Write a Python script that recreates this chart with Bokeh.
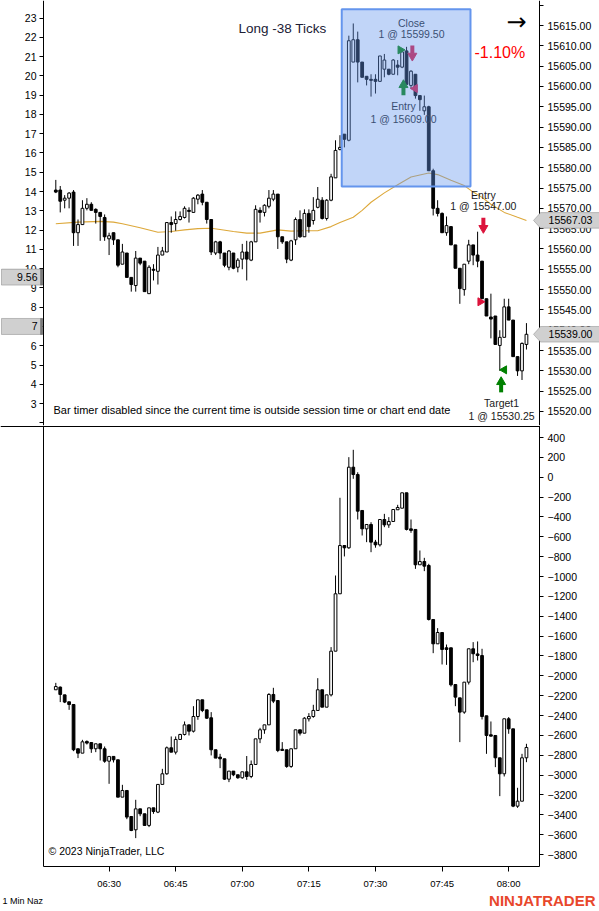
import numpy as np
import pandas as pd
from bokeh.plotting import figure
from bokeh.layouts import column
from bokeh.models import (Range1d, LinearAxis, DatetimeAxis, FixedTicker, DatetimeTickFormatter,
                          PrintfTickFormatter, BoxAnnotation, Label, PolyAnnotation)
from bokeh.core.properties import value
from bokeh.embed import file_html
from bokeh.resources import INLINE

# ---------------- data ----------------
SESSION_DAY = "2023-06-15"
FIRST_BAR = "06:18"

price_open = [15574.5, 15574.5, 15572.0, 15572.5, 15574.0, 15564.0, 15566.0, 15570.0, 15571.0, 15569.75,
 15569.0, 15567.75, 15562.5, 15564.0, 15562.25, 15556.25, 15559.0, 15553.0, 15551.0, 15557.75,
 15557.0, 15549.0, 15555.0, 15554.5, 15558.5, 15559.25, 15566.5, 15566.25, 15567.25, 15567.75,
 15569.5, 15569.0, 15572.25, 15573.5, 15571.5, 15567.25, 15559.0, 15561.75, 15559.0, 15555.5,
 15559.0, 15555.5, 15557.5, 15559.25, 15557.25, 15561.75, 15569.5, 15569.0, 15570.5, 15572.25,
 15573.5, 15563.0, 15561.75, 15557.25, 15562.25, 15567.25, 15563.0, 15568.75, 15567.0, 15570.25,
 15572.0, 15567.5, 15572.0, 15577.5, 15584.5, 15588.25, 15586.75, 15606.0, 15611.5, 15606.0,
 15602.5, 15601.75, 15601.75, 15601.25, 15604.25, 15604.25, 15603.0, 15605.25, 15604.75, 15608.75,
 15600.25, 15603.0, 15597.75, 15594.0, 15595.0, 15579.25, 15570.0, 15568.75, 15564.0, 15565.5,
 15561.0, 15555.25, 15550.0, 15557.0, 15561.0, 15558.5, 15557.0, 15547.75, 15543.25, 15543.5,
 15536.25, 15538.25, 15545.75, 15542.5, 15533.5, 15530.0, 15536.5]
price_high = [15577.0, 15575.5, 15573.25, 15574.0, 15574.5, 15567.25, 15572.0, 15572.5, 15571.5, 15570.0,
 15569.0, 15568.5, 15564.0, 15564.0, 15562.25, 15561.25, 15559.0, 15553.0, 15559.5, 15557.75,
 15557.0, 15556.0, 15556.25, 15560.5, 15560.5, 15566.5, 15568.0, 15569.25, 15569.25, 15570.5,
 15570.25, 15572.75, 15573.5, 15574.5, 15571.5, 15567.25, 15562.0, 15562.0, 15559.0, 15559.75,
 15559.0, 15557.75, 15561.25, 15562.0, 15562.0, 15570.75, 15570.25, 15571.0, 15574.5, 15574.5,
 15573.5, 15563.0, 15561.75, 15562.25, 15567.75, 15569.5, 15569.75, 15569.75, 15572.75, 15575.25,
 15572.75, 15572.25, 15578.5, 15586.75, 15588.0, 15588.25, 15612.5, 15615.5, 15613.5, 15606.0,
 15602.5, 15603.0, 15603.0, 15607.5, 15608.0, 15604.25, 15606.75, 15606.5, 15609.0, 15609.75,
 15604.0, 15603.0, 15597.75, 15597.75, 15595.25, 15579.75, 15572.0, 15569.0, 15568.0, 15565.5,
 15561.0, 15555.25, 15556.25, 15562.25, 15561.0, 15564.25, 15557.0, 15547.75, 15549.0, 15543.5,
 15540.0, 15547.75, 15547.75, 15542.5, 15533.5, 15537.0, 15541.75]
price_low = [15573.75, 15569.0, 15570.0, 15570.0, 15560.75, 15560.75, 15566.0, 15569.5, 15569.5, 15566.25,
 15562.0, 15562.0, 15558.5, 15561.0, 15555.5, 15556.25, 15553.0, 15549.5, 15549.5, 15556.0,
 15549.5, 15549.0, 15552.25, 15551.25, 15558.5, 15559.25, 15564.0, 15564.5, 15567.0, 15567.5,
 15566.5, 15569.0, 15571.0, 15570.75, 15566.25, 15558.5, 15558.5, 15557.5, 15555.5, 15554.75,
 15555.0, 15554.25, 15555.0, 15552.25, 15557.0, 15561.75, 15566.5, 15568.0, 15570.0, 15571.75,
 15560.0, 15561.25, 15556.5, 15557.0, 15561.0, 15562.75, 15563.0, 15564.0, 15566.0, 15570.0,
 15567.25, 15567.0, 15571.75, 15577.5, 15584.25, 15585.0, 15586.5, 15606.0, 15601.0, 15602.25,
 15600.25, 15597.5, 15598.25, 15601.25, 15602.25, 15602.75, 15603.0, 15602.75, 15604.5, 15600.5,
 15599.5, 15597.0, 15594.0, 15593.0, 15579.25, 15568.25, 15568.0, 15564.0, 15563.25, 15561.0,
 15555.25, 15546.5, 15548.5, 15556.25, 15556.0, 15555.5, 15547.75, 15543.5, 15538.0, 15536.5,
 15530.0, 15538.25, 15542.5, 15533.5, 15528.75, 15527.75, 15535.25]
price_close = [15574.0, 15571.75, 15572.5, 15573.75, 15564.0, 15566.0, 15570.0, 15571.0, 15569.5, 15569.0,
 15568.0, 15563.0, 15563.25, 15562.25, 15556.0, 15559.25, 15553.0, 15551.25, 15557.75, 15556.5,
 15549.5, 15555.5, 15554.75, 15558.5, 15559.5, 15566.5, 15566.0, 15567.25, 15568.0, 15570.0,
 15569.25, 15572.5, 15573.25, 15571.5, 15567.25, 15559.25, 15561.75, 15559.0, 15556.0, 15559.5,
 15555.25, 15557.25, 15559.25, 15557.5, 15561.75, 15569.75, 15569.0, 15570.75, 15572.5, 15573.5,
 15563.0, 15561.75, 15557.5, 15562.0, 15567.25, 15563.0, 15568.75, 15565.5, 15569.5, 15572.25,
 15567.5, 15572.0, 15577.75, 15584.25, 15585.0, 15587.0, 15611.25, 15611.5, 15606.0, 15602.25,
 15601.75, 15601.5, 15601.25, 15607.5, 15606.5, 15603.0, 15606.5, 15604.75, 15608.5, 15600.5,
 15603.75, 15597.75, 15596.75, 15595.0, 15579.25, 15570.0, 15568.75, 15564.0, 15565.75, 15561.0,
 15555.25, 15550.25, 15556.25, 15561.0, 15558.5, 15557.0, 15547.75, 15543.5, 15542.75, 15536.5,
 15538.25, 15545.75, 15542.5, 15533.5, 15530.0, 15536.75, 15539.0]

delta_open = [-2141, -2114, -2192, -2262, -2289, -2735, -2779, -2661, -2672, -2735,
 -2685, -2735, -2860, -2812, -2846, -3222, -3155, -3417, -3551, -3340,
 -3390, -3507, -3330, -3373, -3094, -2987, -2725, -2769, -2641, -2591,
 -2494, -2558, -2410, -2242, -2343, -2423, -2745, -2819, -2836, -3041,
 -2960, -2997, -3027, -2967, -3014, -2893, -2635, -2544, -2494, -2188,
 -2249, -2740, -2745, -2913, -2735, -2544, -2578, -2433, -2410, -2349,
 -2141, -2316, -2192, -1752, -1174, -688, -711, 101, 27, -335,
 -520, -476, -654, -681, -426, -480, -446, -328, -312, -157,
 -520, -526, -882, -849, -889, -1433, -1678, -1564, -1718, -1718,
 -2088, -2222, -2366, -2064, -1728, -1780, -1796, -2403, -2594, -2601,
 -2826, -2987, -2433, -2534, -3313, -3263, -2826]
delta_high = [-2071, -2108, -2192, -2262, -2289, -2735, -2645, -2651, -2672, -2685,
 -2685, -2712, -2812, -2812, -2846, -3098, -3155, -3417, -3249, -3340,
 -3390, -3330, -3330, -3094, -2937, -2712, -2611, -2611, -2584, -2460,
 -2494, -2306, -2242, -2242, -2343, -2366, -2745, -2786, -2836, -2960,
 -2960, -2997, -2967, -2808, -2853, -2635, -2524, -2494, -2175, -2121,
 -2249, -2668, -2745, -2735, -2544, -2544, -2417, -2376, -2292, -2024,
 -2141, -2192, -1711, -990, -207, -688, 202, 276, 50, -335,
 -476, -453, -631, -426, -369, -402, -325, -278, -157, -157,
 -426, -526, -738, -812, -872, -1433, -1520, -1564, -1685, -1718,
 -2088, -2222, -2064, -1728, -1661, -1654, -1728, -2403, -2460, -2601,
 -2826, -2433, -2416, -2534, -3128, -2786, -2685]
delta_low = [-2141, -2265, -2275, -2343, -2759, -2829, -2779, -2692, -2776, -2769,
 -2853, -2876, -3088, -2873, -3222, -3222, -3444, -3565, -3635, -3414,
 -3507, -3524, -3390, -3383, -3004, -2997, -2769, -2792, -2645, -2601,
 -2601, -2571, -2443, -2366, -2433, -2802, -2829, -2930, -3048, -3071,
 -3011, -3037, -3037, -3048, -3031, -2893, -2678, -2584, -2494, -2275,
 -2769, -2752, -2927, -2927, -2735, -2601, -2578, -2460, -2423, -2349,
 -2316, -2316, -2208, -1752, -1174, -798, -721, -16, -426, -587,
 -654, -755, -710, -698, -503, -510, -446, -328, -312, -536,
 -560, -923, -882, -946, -1443, -1772, -1678, -1886, -1890, -2108,
 -2306, -2668, -2383, -2088, -1863, -1846, -2440, -2786, -2611, -2920,
 -3212, -3014, -2584, -3323, -3330, -3263, -2870]
delta_close = [-2108, -2188, -2265, -2289, -2745, -2779, -2665, -2678, -2735, -2685,
 -2735, -2860, -2812, -2846, -3222, -3155, -3423, -3558, -3340, -3390,
 -3507, -3330, -3367, -3094, -2987, -2725, -2769, -2641, -2591, -2494,
 -2558, -2410, -2242, -2349, -2427, -2745, -2829, -2836, -3041, -2960,
 -2997, -3027, -2967, -3014, -2893, -2635, -2544, -2494, -2188, -2255,
 -2752, -2752, -2913, -2735, -2544, -2578, -2427, -2410, -2349, -2141,
 -2316, -2192, -1752, -1174, -688, -711, 101, 27, -342, -520,
 -476, -654, -681, -426, -480, -446, -325, -305, -157, -526,
 -536, -882, -849, -896, -1433, -1678, -1564, -1735, -1735, -2091,
 -2215, -2366, -2064, -1728, -1778, -1796, -2410, -2601, -2608, -2826,
 -2987, -2433, -2534, -3313, -3263, -2826, -2722]

# moving average of price, read at sampled bars
ma_bar = [0, 5, 10, 13, 15, 19, 23, 26, 29, 32, 35, 37, 40, 43, 46, 50, 53, 56, 59, 62,
          64, 67, 69, 71, 74, 77, 80, 84, 86, 89, 92, 94, 96, 98, 101, 104, 106]
ma_value = [15566.2, 15566.6, 15566.8, 15566.6, 15566.2, 15565.2, 15564.1, 15564.3, 15564.7, 15565.0,
            15565.1, 15564.8, 15564.3, 15563.9, 15563.9, 15564.7, 15564.4, 15564.5, 15564.5, 15565.5,
            15566.5, 15567.8, 15569.5, 15571.5, 15573.8, 15575.8, 15577.7, 15578.7, 15578.3, 15576.9,
            15575.6, 15574.0, 15572.7, 15571.0, 15569.0, 15567.8, 15567.03]

time_tick_labels = ["06:30", "06:45", "07:00", "07:15", "07:30", "07:45", "08:00"]
price_ticks = list(range(15520, 15625, 5))
indicator_ticks = list(range(2, 24))
delta_ticks = list(range(-3800, 401, 200))

indicator_markers = [9.56, 7.0]
price_markers = [15567.03, 15539.00]

trade_box = {"start": 64.4, "end": 93.4, "top": 15619.0, "bottom": 15575.4}
trade_texts = [
    (80.1, 15615.7, "Close"), (80.1, 15612.8, "1 @ 15599.50"),
    (78.3, 15595.1, "Entry"), (78.3, 15592.1, "1 @ 15609.00"),
    (96.3, 15573.4, "Entry"), (96.3, 15570.5, "1 @ 15547.00"),
    (100.4, 15522.0, "Target1"), (100.4, 15519.0, "1 @ 15530.25"),
]
arrows = [  # bar, tip price, direction, colour
    (78.3, 15601.5, "up", "#008000"),
    (80.3, 15606.4, "down", "#DC143C"),
    (96.3, 15564.0, "down", "#DC143C"),
    (100.3, 15528.4, "up", "#008000"),
]
fill_marks = [  # bar, price, side, colour
    (77.6, 15609.0, "right", "#008000"),
    (80.9, 15599.5, "left", "#DC143C"),
    (95.6, 15547.0, "right", "#DC143C"),
    (101.0, 15530.25, "left", "#008000"),
]

# ---------------- geometry ----------------
MIN = 60000.0
T0 = pd.Timestamp(f"{SESSION_DAY} {FIRST_BAR}").value / 1e6
n = len(price_open)
t = T0 + np.arange(n) * MIN

def bt(b):
    return T0 + b * MIN

W = 599
TOP_H, BOT_H = 425, 486
BAR0_X, PX_MIN = 55.3, 4.44          # page x of first bar, px per minute
LEFT_X, RIGHT_X = 43, 539             # page x of the axis lines

def page_x(px):
    return bt((px - BAR0_X) / PX_MIN)

PX = 4.063                           # px per price point
def price_at(y):                     # page y -> price
    return 15615 - (y - 25) / PX
IPX = 19.28
def ind_at(y):
    return 23 - (y - 17.5) / IPX
def ind_y(v):                        # indicator value -> page y
    return 17.5 + (23 - v) * IPX
DPX = 0.09929
def delta_at(y):
    return 400 - (y - 437) / DPX

FONT = "Liberation Sans"
xr = Range1d(page_x(0), page_x(W))

def candles(fig, o, h, l, c):
    o, h, l, c = map(np.asarray, (o, h, l, c))
    up = c >= o
    fig.segment(t, h, t, l, color="black", line_width=1)
    w = 0.62 * MIN
    fig.vbar(t[up], w, top=c[up], bottom=o[up], fill_color="white", line_color="black", line_width=1)
    fig.vbar(t[~up], w, top=o[~up], bottom=c[~up], fill_color="black", line_color="black", line_width=1)

def style_axis(ax, size="10.5px", standoff=4):
    ax.major_label_text_font = FONT
    ax.major_label_text_font_size = size
    ax.major_label_text_color = "black"
    ax.axis_line_color = "black"
    ax.major_tick_line_color = "black"
    ax.major_tick_out = 4
    ax.major_tick_in = 0
    ax.minor_tick_line_color = None
    ax.major_label_standoff = standoff

def base_fig(h, yr):
    f = figure(width=W, height=h, x_range=xr, y_range=yr, x_axis_type="datetime",
               x_axis_location=None, y_axis_location=None,
               min_border_left=0, min_border_right=0, min_border_top=0, min_border_bottom=0,
               output_backend="svg", toolbar_location=None, background_fill_color="white")
    f.grid.visible = False
    f.outline_line_color = None
    return f

# ---------------- top panel ----------------
p1 = base_fig(TOP_H, Range1d(price_at(TOP_H), price_at(0)))
p1.extra_y_ranges = {"ind": Range1d(ind_at(TOP_H), ind_at(0))}

rax = LinearAxis(ticker=FixedTicker(ticks=price_ticks), formatter=PrintfTickFormatter(format="%.2f"),
                 fixed_location=page_x(RIGHT_X), major_label_overrides={15620: ""})
style_axis(rax, "10.5px", 4)
p1.add_layout(rax, "right")

lax = LinearAxis(y_range_name="ind", ticker=FixedTicker(ticks=indicator_ticks),
                 fixed_location=page_x(LEFT_X), major_label_overrides={2: ""})
style_axis(lax, "10.5px", 3)
p1.add_layout(lax, "left")

p1.line(bt(np.asarray(ma_bar)), ma_value, color="#DDA83A", line_width=1.1)
candles(p1, price_open, price_high, price_low, price_close)

for b, tip, d, col in arrows:
    sgn = 1 if d == "down" else -1
    cx = bt(b)
    p1.segment([cx], [tip + sgn * 7 / PX], [cx], [tip + sgn * 15 / PX], color=col,
               line_width=4, line_cap="butt")
    p1.scatter([cx], [tip + sgn * 4.6 / PX], marker="inverted_triangle" if d == "down" else "triangle",
               size=9, fill_color=col, line_color=col)
for b, pr, side, col in fill_marks:
    p1.scatter([bt(b)], [pr], marker="triangle", size=8,
               angle=-np.pi / 2 if side == "right" else np.pi / 2,
               fill_color=col, line_color=col)

p1.text([bt(x) for x, _, _ in trade_texts], [y for _, y, _ in trade_texts], [s for _, _, s in trade_texts],
        text_font=value(FONT), text_font_size="10.5px", text_align="center", text_baseline="middle",
        text_color="#1a1a1a")

p1.add_layout(BoxAnnotation(left=bt(trade_box["start"]), right=bt(trade_box["end"]),
                            top=trade_box["top"], bottom=trade_box["bottom"],
                            fill_color="#6495ED", fill_alpha=0.4, line_color="#6495ED",
                            line_width=2, line_alpha=1.0))

def slabel(fig, x, y, text, size, color="black", align="left", style="normal", font=FONT):
    fig.add_layout(Label(x=x, y=y, x_units="screen", y_units="screen", text=text,
                         text_font=font, text_font_size=size, text_color=color, text_font_style=style,
                         text_align=align, text_baseline="middle"))

slabel(p1, 282, TOP_H - 28, "Long -38 Ticks", "13.5px", "#202035", "center")
slabel(p1, 474, TOP_H - 52, "-1.10%", "16px", "#FF0000", "left")
slabel(p1, 516, TOP_H - 21, "\u2192", "24px", "black", "center", font="DejaVu Sans")
slabel(p1, 53, TOP_H - 409,
       "Bar timer disabled since the current time is outside session time or chart end date", "11px")

for v in price_markers:
    hh = 7.8 / PX
    p1.add_layout(PolyAnnotation(xs=[533, 540, 600, 600, 540], ys=[v, v + hh, v + hh, v - hh, v - hh],
                                 xs_units="screen", ys_units="data", fill_color="#D0D0D0", fill_alpha=1,
                                 line_color="#505050", line_width=1))
    p1.add_layout(Label(x=570, y=v, x_units="screen", text=f"{v:.2f}", text_font=FONT,
                        text_font_size="10.5px", text_color="black", text_align="center",
                        text_baseline="middle"))
for v in indicator_markers:
    sy = TOP_H - ind_y(v)
    p1.add_layout(PolyAnnotation(xs=[1, 42, 42, 1], ys=[sy + 8, sy + 8, sy - 8, sy - 8],
                                 xs_units="screen", ys_units="screen",
                                 fill_color="#D0D0D0", fill_alpha=1, line_color="#444444", line_width=1))
    p1.add_layout(PolyAnnotation(xs=[40, 42, 42, 40], ys=[sy + 8, sy + 8, sy - 8, sy - 8],
                                 xs_units="screen", ys_units="screen",
                                 fill_color="#7A7A7A", fill_alpha=1, line_color="#444444", line_width=1))
    slabel(p1, 37, sy, f"{v:g}", "10.5px", "black", "right")

# ---------------- bottom panel ----------------
p2 = base_fig(BOT_H, Range1d(delta_at(TOP_H + BOT_H), delta_at(TOP_H)))
frame_bottom = delta_at(866)
frame_top = delta_at(TOP_H)

drax = LinearAxis(ticker=FixedTicker(ticks=delta_ticks), fixed_location=page_x(RIGHT_X),
                  bounds=(frame_bottom, frame_top))
style_axis(drax, "10.5px", 4)
p2.add_layout(drax, "right")

dlax = LinearAxis(ticker=FixedTicker(ticks=[]), fixed_location=page_x(LEFT_X),
                  bounds=(frame_bottom, frame_top))
style_axis(dlax)
p2.add_layout(dlax, "left")

topline = LinearAxis(ticker=FixedTicker(ticks=[]), fixed_location=delta_at(TOP_H + 0.5),
                     bounds=(page_x(0), page_x(RIGHT_X)))
style_axis(topline)
p2.add_layout(topline, "above")

tick_ms = [pd.Timestamp(f"{SESSION_DAY} {s}").value / 1e6 for s in time_tick_labels]
fmt = "%H:%M"
xax = DatetimeAxis(ticker=FixedTicker(ticks=tick_ms), fixed_location=frame_bottom,
                   bounds=(page_x(LEFT_X), page_x(RIGHT_X)),
                   formatter=DatetimeTickFormatter(milliseconds=fmt, seconds=fmt, minsec=fmt, minutes=fmt,
                                                   hourmin=fmt, hours=fmt, days=fmt, months=fmt, years=fmt))
style_axis(xax, "9.5px", 6)
xax.major_tick_out = 5
p2.add_layout(xax, "below")

candles(p2, delta_open, delta_high, delta_low, delta_close)

slabel(p2, 48, BOT_H - (850 - TOP_H), "\u00a9 2023 NinjaTrader, LLC", "10.5px")
slabel(p2, 2, BOT_H - (900 - TOP_H), "1 Min Naz", "9px")
slabel(p2, 595, BOT_H - (900 - TOP_H), "NINJATRADER", "15px", "#E8472C", "right", "bold")

layout = column(p1, p2, spacing=0)
open("out.html", "w").write(file_html(layout, INLINE))
